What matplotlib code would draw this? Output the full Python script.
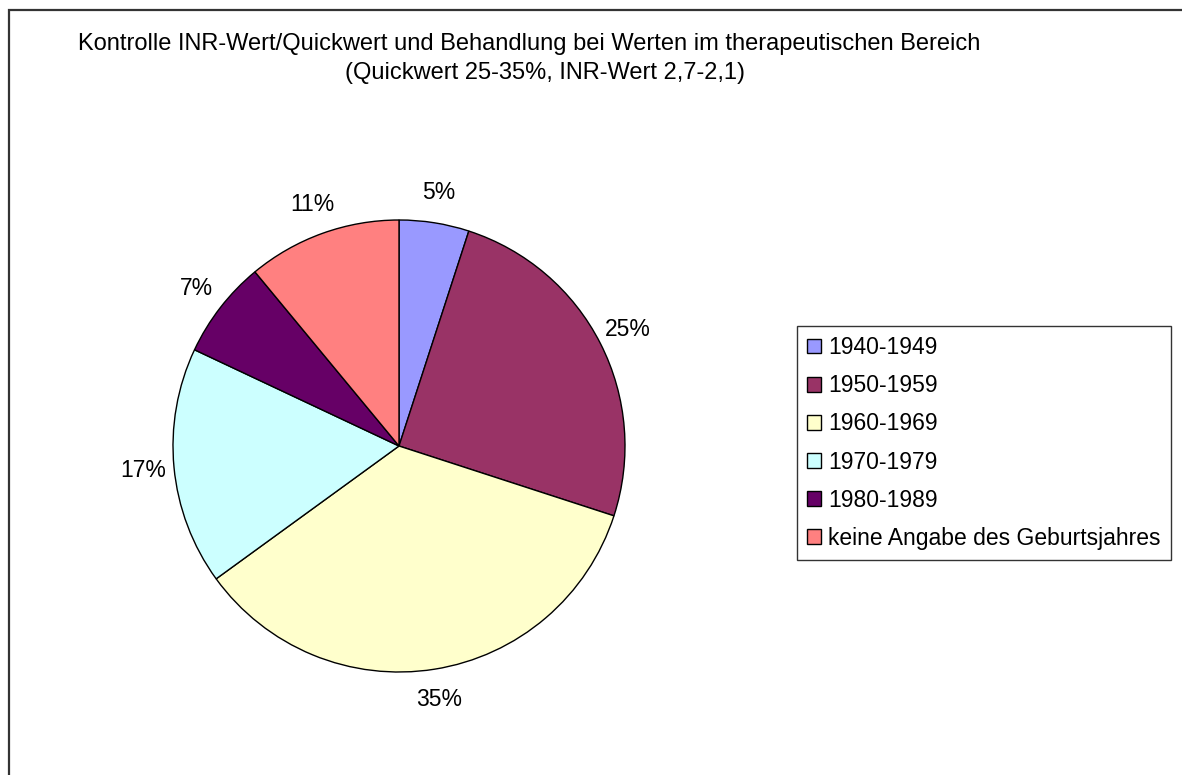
import matplotlib
matplotlib.use("Agg")
import matplotlib.pyplot as plt
from matplotlib.patches import Rectangle
import numpy as np

plt.rcParams['font.family'] = ['Liberation Sans', 'DejaVu Sans']

categories = ["1940-1949", "1950-1959", "1960-1969", "1970-1979", "1980-1989",
              "keine Angabe des Geburtsjahres"]
values = [5, 25, 35, 17, 7, 11]
colors = ["#9999FF", "#993366", "#FFFFCC", "#CCFFFF", "#660066", "#FF8080"]
title_lines = ["Kontrolle INR-Wert/Quickwert und Behandlung bei Werten im therapeutischen Bereich",
               "(Quickwert 25-35%, INR-Wert 2,7-2,1)"]

W, H = 1182, 775
fig = plt.figure(figsize=(W / 100, H / 100), dpi=100)

# outer frame (extends beyond right/bottom edges)
fig.patches.append(Rectangle((9.5 / W, -0.5), 2.0, 0.5 + (H - 9.5) / H,
                             transform=fig.transFigure, fill=False,
                             edgecolor="#333333", linewidth=1.6))

cx, cy, r = 399, 446, 226
ax = fig.add_axes([(cx - r) / W, (H - cy - r) / H, 2 * r / W, 2 * r / H])
wedges, texts = ax.pie(values, colors=colors, startangle=90, counterclock=False,
                       labels=[f"{v}%" for v in values], labeldistance=1.135,
                       wedgeprops=dict(edgecolor="black", linewidth=1.0),
                       textprops=dict(fontsize=16.5, color="black"))
for t in texts:
    t.set_horizontalalignment("center")
    t.set_verticalalignment("center")
ax.set_xlim(-1, 1)
ax.set_ylim(-1, 1)
ax.set_aspect("equal")
ax.axis("off")

fig.text(78 / W, 1 - 44 / H, title_lines[0], ha="left", va="center", fontsize=17)
fig.text(745 / W, 1 - 73 / H, title_lines[1], ha="right", va="center", fontsize=17)

leg = fig.legend(wedges, categories, loc="center left",
                 bbox_to_anchor=(797 / W, 1 - 443 / H),
                 frameon=True, fancybox=False, fontsize=16.5,
                 handlelength=0.6, handleheight=0.6, handletextpad=0.3,
                 labelspacing=0.66, borderpad=0.45, borderaxespad=0)
leg.get_frame().set_edgecolor("black")
leg.get_frame().set_linewidth(1.0)

fig.savefig("out.png", dpi=100)
